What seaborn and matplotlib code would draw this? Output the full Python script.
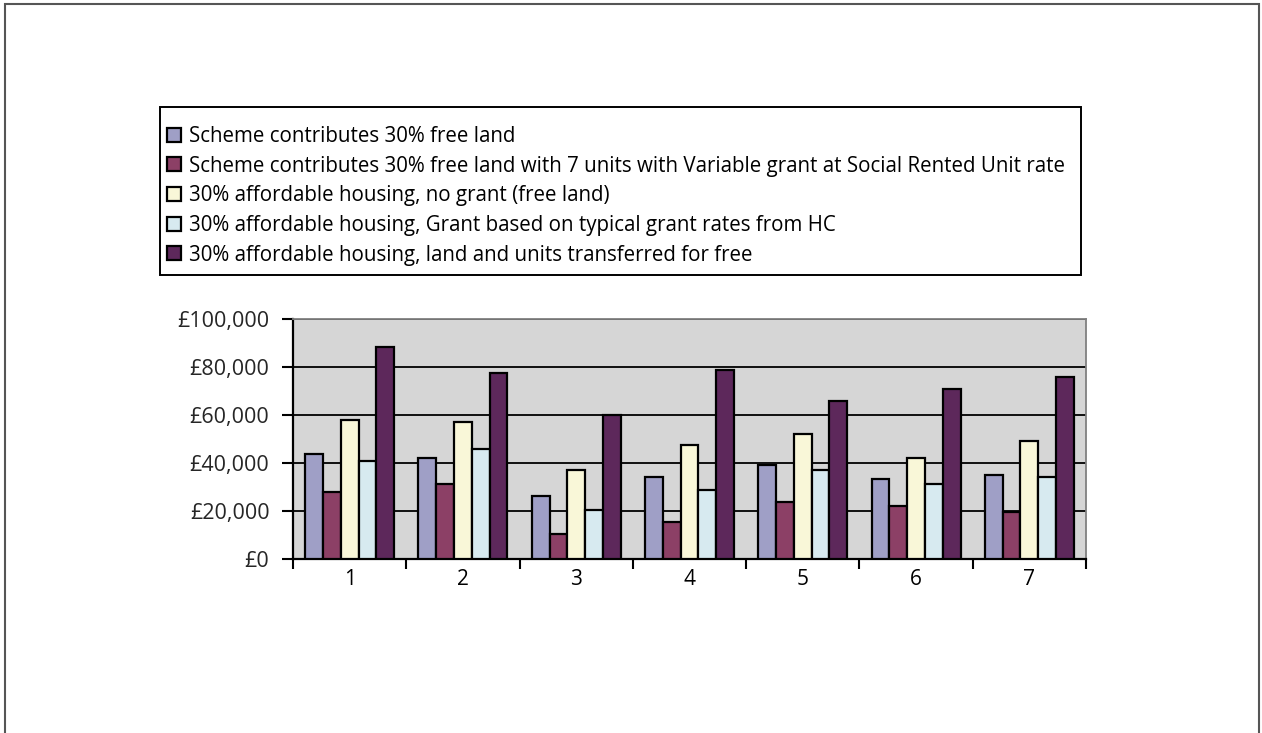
import matplotlib
matplotlib.use("Agg")
import matplotlib.pyplot as plt
from matplotlib.patches import Rectangle
from matplotlib.ticker import FuncFormatter, FixedLocator
import seaborn as sns
import pandas as pd

# Scheme numbers along the x axis
schemes = ["1", "2", "3", "4", "5", "6", "7"]

series_names = [
    "Scheme contributes 30% free land",
    "Scheme contributes 30% free land with 7 units with Variable grant at Social Rented Unit rate",
    "30% affordable housing, no grant (free land)",
    "30% affordable housing, Grant based on typical grant rates from HC",
    "30% affordable housing, land and units transferred for free",
]

free_land = [43600, 42000, 26300, 34300, 39000, 33400, 35100]
free_land_variable_grant = [27800, 31100, 10600, 15500, 23900, 22200, 19600]
no_grant = [57800, 57000, 37200, 47600, 52000, 42200, 49100]
typical_grant = [40900, 46000, 20600, 28600, 37200, 31200, 34300]
transferred_free = [88200, 77400, 60200, 78800, 65800, 70900, 75800]

series_values = [free_land, free_land_variable_grant, no_grant, typical_grant, transferred_free]
colors = ["#9999CC", "#993366", "#FFFCD2", "#D3ECF4", "#661F63"]

rows = []
for name, vals in zip(series_names, series_values):
    for s, v in zip(schemes, vals):
        rows.append({"scheme": s, "series": name, "value": v})
df = pd.DataFrame(rows)

sns.set_theme(style="white")
plt.rcParams["font.family"] = ["Open Sans", "DejaVu Sans"]

W, H = 1262, 733
fig = plt.figure(figsize=(W / 100, H / 100), dpi=100)
ax = fig.add_axes([293 / W, 1 - 559 / H, (1086 - 293) / W, (559 - 319) / H])
ax.set_facecolor("#D6D6D6")

sns.barplot(
    data=df, x="scheme", y="value", hue="series", order=schemes,
    hue_order=series_names, palette=colors, width=0.785, gap=0,
    edgecolor="black", linewidth=1.6, ax=ax, legend=True, zorder=3,
)

ax.set_ylim(0, 100000)
ax.set_xlim(-0.5, len(schemes) - 0.5)
ax.set_yticks([0, 20000, 40000, 60000, 80000, 100000])
ax.yaxis.set_major_formatter(FuncFormatter(lambda v, p: "£{:,.0f}".format(v)))
ax.yaxis.grid(True, color="black", linewidth=1.3, zorder=0)
ax.set_axisbelow(True)
ax.set_xlabel("")
ax.set_ylabel("")

# Category labels without marks; marks sit between categories
ax.xaxis.set_major_locator(FixedLocator(list(range(len(schemes)))))
ax.set_xticklabels(schemes)
ax.xaxis.set_minor_locator(FixedLocator([i - 0.5 for i in range(len(schemes) + 1)]))
ax.tick_params(axis="x", which="major", length=0, labelsize=15, pad=7, colors="black")
ax.tick_params(axis="x", which="minor", length=7, width=1.5, direction="out", color="black", bottom=True)
ax.tick_params(axis="y", length=8, width=1.5, direction="out", color="black", labelsize=15.5, pad=9, left=True)

for side in ["left", "bottom"]:
    ax.spines[side].set_color("black")
    ax.spines[side].set_linewidth(1.6)
for side in ["top", "right"]:
    ax.spines[side].set_color("#808080")
    ax.spines[side].set_linewidth(1.3)

handles, labels = ax.get_legend_handles_labels()
ax.get_legend().remove()
leg = fig.legend(
    handles, labels, loc="upper left",
    bbox_to_anchor=(167 / W, 1 - 126 / H),
    fontsize=14.8, frameon=False,
    handlelength=0.66, handleheight=0.66, handletextpad=0.4,
    labelspacing=0.42, borderaxespad=0, borderpad=0, ncol=1,
)
for t in leg.get_texts():
    t.set_color("black")

# Legend box
fig.patches.append(Rectangle((160 / W, 1 - 275 / H), (1081 - 160) / W, (275 - 107) / H,
                             transform=fig.transFigure, fill=False,
                             edgecolor="black", linewidth=1.4, zorder=0))

# Outer chart frame
fig.patches.append(Rectangle((5 / W, -0.05), (1259 - 5) / W, 1.05 - 4 / H,
                             transform=fig.transFigure, fill=False,
                             edgecolor="#555555", linewidth=1.5))

fig.savefig("out.png", dpi=100, facecolor="white")
